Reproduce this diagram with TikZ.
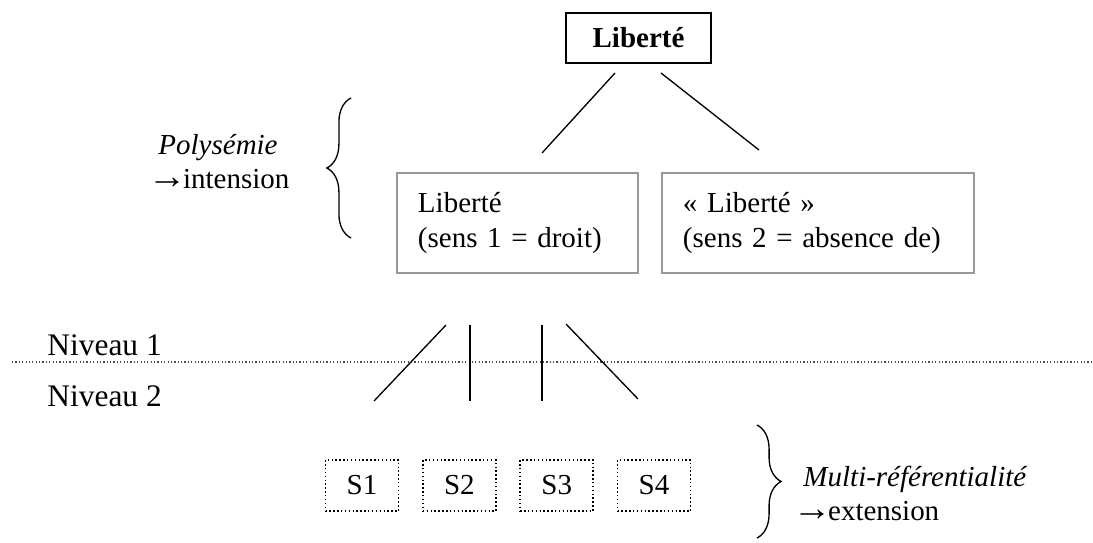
\documentclass[tikz,border=0pt]{standalone}
\usepackage{fontspec}
\setmainfont{Liberation Serif}
\usetikzlibrary{positioning,decorations.pathreplacing}

\newcommand{\fleche}{\makebox[7.2pt][c]{\scalebox{1.35}[1.25]{→}}}

\tikzset{
  every node/.style={font=\fontsize{12}{14.2}\selectfont},
  mot/.style={draw=black,line width=0.5pt,minimum width=60pt,minimum height=20.7pt,font=\fontsize{12}{14.2}\selectfont\bfseries},
  sens/.style={draw=black!40,line width=0.8pt,minimum height=41.4pt,inner xsep=8.7pt,align=left},
  refbox/.style={draw=black,densely dotted,line width=0.6pt,minimum width=30.2pt,minimum height=21.1pt},
  note/.style={align=left,inner sep=0pt,font=\fontsize{12}{13.7}\selectfont},
  niveau/.style={inner sep=0pt,font=\fontsize{13}{15}\selectfont},
  trait/.style={black,line width=0.55pt},
  accolade/.style={decorate,decoration={brace,amplitude=10pt},line width=0.55pt}
}

\begin{document}
\begin{tikzpicture}[x=0.414pt,y=-0.414pt]
\useasboundingbox (0,0) rectangle (1093,542);

\node[mot] (top) at (638.5,38) {Liberté};
\node[sens,text width=82.4pt] (sens1) at (517.5,223) {Liberté\\(sens 1 = droit)};
\node[sens,text width=111.8pt] (sens2) at (818,223) {«~Liberté~»\\(sens 2 = absence de)};

\coordinate (t1) at (615,73);
\coordinate (t2) at (542,153);
\coordinate (t3) at (661,73);
\coordinate (t4) at (759,150);
\draw [trait] (t1) -- (t2);
\draw [trait] (t3) -- (t4);

\node[note,anchor=base west] (poly) at (158,188) {\textit{Polysémie}\\\fleche{} intension};
\draw [accolade] (351,238) -- (351,98);

\draw [black!70,line width=0.5pt,dash pattern=on 0.5pt off 0.9pt] (12,362) -- (1093,362);
\node[niveau,anchor=base west] (niv1) at (47,355) {Niveau 1};
\node[niveau,anchor=base west] (niv2) at (47,406) {Niveau 2};

\coordinate (a1) at (446,325);
\coordinate (a2) at (374,401);
\coordinate (b1) at (470,325);
\coordinate (b2) at (470,401);
\coordinate (c1) at (542,325);
\coordinate (c2) at (542,401);
\coordinate (d1) at (566,324);
\coordinate (d2) at (638,399);
\draw [trait] (a1) -- (a2);
\draw [trait] (b1) -- (b2);
\draw [trait] (c1) -- (c2);
\draw [trait] (d1) -- (d2);

\node[refbox] (s1) at (362,485.5) {S1};
\node[refbox,right=9.5pt of s1] (s2) {S2};
\node[refbox,right=9.5pt of s2] (s3) {S3};
\node[refbox,right=9.5pt of s3] (s4) {S4};

\draw [accolade] (757,425) -- (757,538);
\node[note,anchor=base west] (multi) at (803,520) {\textit{Multi-référentialité}\\\fleche{} extension};

\end{tikzpicture}
\end{document}
